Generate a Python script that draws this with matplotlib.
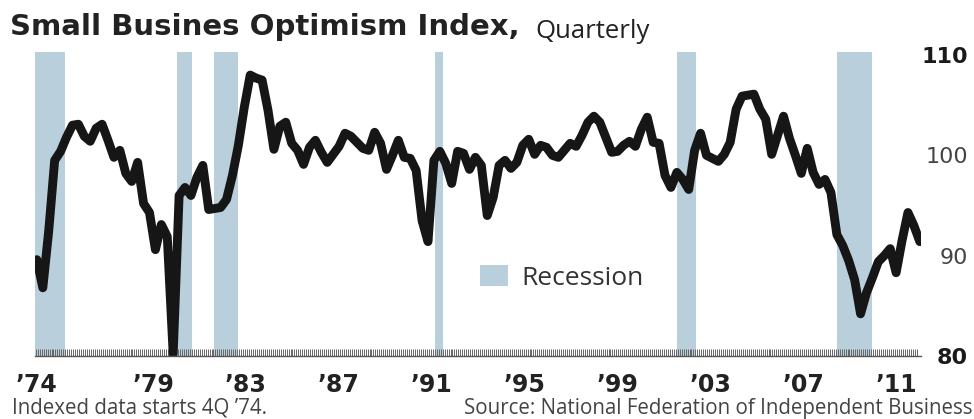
import matplotlib
matplotlib.use("Agg")
import matplotlib.pyplot as plt
from matplotlib.patches import Patch
import numpy as np

# ---------------- data ----------------
start_year = 1974.75  # 4Q 1974
index_values = [
    89.6, 86.8, 92.5, 99.5, 100.4, 101.8, 103.0, 103.1, 101.9, 101.4,
    102.7, 103.1, 101.5, 99.8, 100.5, 98.2, 97.4, 99.3, 95.2, 94.3,
    90.6, 93.1, 91.9, 80.2, 96.0, 96.8, 96.0, 97.8, 99.0, 94.6,
    94.7, 94.8, 95.6, 98.0, 101.0, 104.8, 108.0, 107.7, 107.5, 104.5,
    100.6, 102.9, 103.3, 101.2, 100.5, 99.1, 100.8, 101.5, 100.3, 99.3,
    100.1, 100.9, 102.2, 101.9, 101.3, 100.7, 100.5, 102.3, 101.2, 98.6,
    100.0, 101.5, 99.8, 99.7, 98.5, 93.5, 91.4, 99.5, 100.4, 99.2,
    97.2, 100.4, 100.2, 98.6, 99.8, 99.0, 94.0, 95.8, 99.0, 99.5,
    98.7, 99.3, 101.0, 101.6, 100.1, 101.0, 100.8, 100.0, 99.8, 100.5,
    101.2, 100.9, 102.0, 103.3, 103.9, 103.3, 101.8, 100.3, 100.4, 101.0,
    101.4, 100.9, 102.6, 103.8, 101.3, 101.2, 98.0, 96.8, 98.3, 97.6,
    96.6, 100.5, 102.2, 100.0, 99.7, 99.4, 100.1, 101.3, 104.6, 105.9,
    106.0, 106.1, 104.6, 103.6, 100.1, 102.0, 103.9, 101.7, 100.0, 98.2,
    100.7, 98.3, 97.1, 97.6, 96.3, 92.1, 91.0, 89.5, 87.6, 84.2,
    86.3, 87.8, 89.4, 90.0, 90.7, 88.3, 91.5, 94.3, 93.0, 91.4,
]
quarters = start_year + 0.25 * np.arange(len(index_values))

recession_starts = [1974.67, 1980.65, 1982.21, 1991.53, 2001.77, 2008.52]
recession_ends = [1975.93, 1981.28, 1983.22, 1991.87, 2002.57, 2010.00]

tick_years = [1974, 1979, 1983, 1987, 1991, 1995, 1999, 2003, 2007, 2011]
tick_labels = ["\u201974", "\u201979", "\u201983", "\u201987", "\u201991",
               "\u201995", "\u201999", "\u201903", "\u201907", "\u201911"]
y_ticks = [80, 90, 100, 110]
y_bold = [True, False, False, True]

title = "Small Busines Optimism Index,"
subtitle = "Quarterly"
note = "Indexed data starts 4Q \u201974."
source = "Source: National Federation of Independent Business"

# ---------------- figure ----------------
W, H = 974, 419
fig = plt.figure(figsize=(W / 100, H / 100), dpi=100)
ax = fig.add_axes([35 / W, (H - 356) / H, (921 - 35) / W, (356 - 52) / H])

band_color = "#b9cfdb"
for s, e in zip(recession_starts, recession_ends):
    ax.axvspan(s, e, color=band_color, lw=0, zorder=1)

ax.plot(quarters, index_values, color="#161616", lw=6.4,
        solid_joinstyle="round", solid_capstyle="round", zorder=3)

ax.set_xlim(1974.67, 2012.05)
ax.set_ylim(80, 110.3)

for sp in ["top", "left", "right"]:
    ax.spines[sp].set_visible(False)
ax.spines["bottom"].set_color("#555555")
ax.spines["bottom"].set_linewidth(1.0)
ax.spines["bottom"].set_zorder(4)

# x tick labels (positions stretched to the chart's label placement)
span = (2011.0 - start_year) / (2011 - 1974)
label_pos = [start_year + (y - 1974) * span for y in tick_years]
ax.set_xticks(label_pos)
ax.set_xticklabels(tick_labels, fontsize=17, fontweight="bold",
                   family="DejaVu Sans", color="#222222")
ax.tick_params(axis="x", which="major", length=0, pad=12)

# monthly minor ticks forming the strip
minor = np.arange(1974.70, 2011.95, 1 / 12)
ax.set_xticks(minor, minor=True)
ax.tick_params(axis="x", which="minor", direction="in", length=5,
               width=0.7, color="#666666")

# y labels on the right
ax.yaxis.tick_right()
ax.set_yticks(y_ticks)
ax.set_yticklabels([str(v) for v in y_ticks])
ax.tick_params(axis="y", length=0, pad=34, labelsize=16)
for lbl, b in zip(ax.get_yticklabels(), y_bold):
    lbl.set_ha("right")
    lbl.set_fontweight("bold" if b else "normal")
    lbl.set_color("#1a1a1a" if b else "#444444")

# legend
leg = ax.legend([Patch(facecolor=band_color, edgecolor="none")], ["Recession"],
                frameon=False, loc="center left",
                bbox_to_anchor=(480 / W, 1 - 278 / H),
                bbox_transform=fig.transFigure,
                borderpad=0, borderaxespad=0,
                handlelength=1.05, handleheight=0.85, handletextpad=0.5,
                prop={"family": "Open Sans", "size": 19})
for t in leg.get_texts():
    t.set_color("#333333")

# titles & notes
fig.text(10 / W, 1 - 27 / H, title, fontsize=21, fontweight="bold",
         family="DejaVu Sans", color="#222222", va="center", ha="left")
fig.text(535 / W, 1 - 31 / H, subtitle, fontsize=18.5,
         family="Open Sans", color="#222222", va="center", ha="left")
fig.text(12 / W, 1 - 408 / H, note, fontsize=14.8,
         family="Open Sans", color="#444444", va="center", ha="left")
fig.text(972 / W, 1 - 408 / H, source, fontsize=14.8,
         family="Open Sans", color="#444444", va="center", ha="right")

fig.savefig("out.png", dpi=100, facecolor="white")
